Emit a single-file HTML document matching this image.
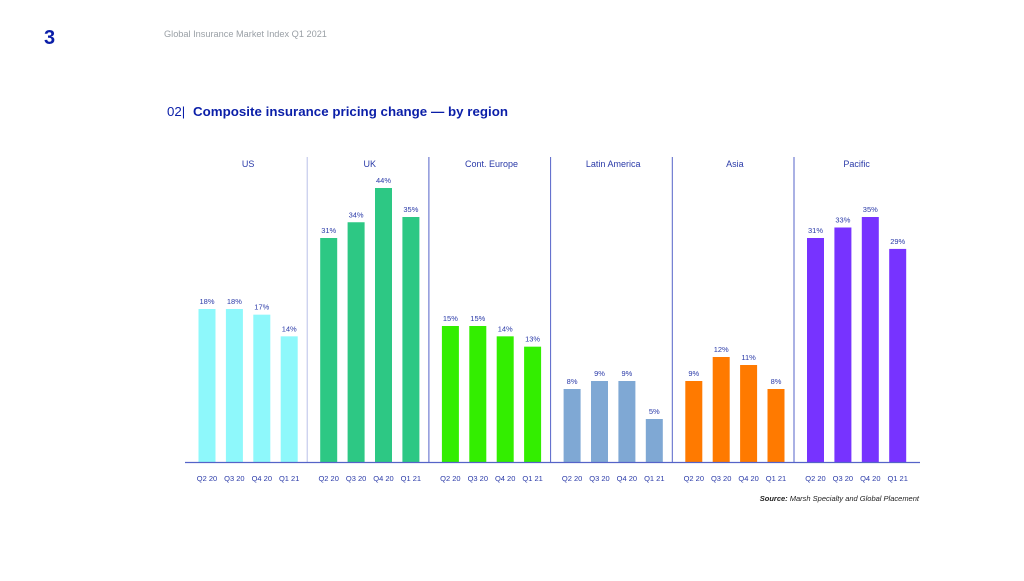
<!DOCTYPE html>
<html><head><meta charset="utf-8"><style>
html,body{margin:0;padding:0;background:#fff;}
body{width:1024px;height:576px;overflow:hidden;position:relative;font-family:"Liberation Sans",sans-serif;}
</style></head><body>
<svg id="chart" width="1024" height="576" viewBox="0 0 1024 576" xmlns="http://www.w3.org/2000/svg">
<text x="44" y="44" font-size="20" font-weight="bold" fill="#0a1ea8">3</text>
<text x="164" y="37" font-size="9.2" fill="#9aa0a6">Global Insurance Market Index Q1 2021</text>
<text x="167" y="116" font-size="13.3" fill="#0a1ea8">02|</text>
<text x="193" y="116" font-size="13.3" font-weight="bold" fill="#0a1ea8" textLength="315">Composite insurance pricing change — by region</text>
<text x="919" y="501" font-size="7.5" font-style="italic" fill="#222" text-anchor="end"><tspan font-weight="bold">Source:</tspan> Marsh Specialty and Global Placement</text>
<g id="marks"></g>
</svg>
<script>
const regions = ["US","UK","Cont. Europe","Latin America","Asia","Pacific"];
const quarters = ["Q2 20","Q3 20","Q4 20","Q1 21"];
const usVals = [18,18,17,14];
const ukVals = [31,34,44,35];
const europeVals = [15,15,14,13];
const latamVals = [8,9,9,5];
const asiaVals = [9,12,11,8];
const pacificVals = [31,33,35,29];
const colors = ["#8ef8fb","#2dc884","#33ee00","#7fa8d4","#ff7a00","#7733ff"];

const series = [usVals,ukVals,europeVals,latamVals,asiaVals,pacificVals];
const baseY = 462;
// polylinear y scale (reference chart is not linear)
const dom = [0,5,8,12,15,18,31,35,44,60];
const rng = [0,43,73,105,136,153,224,245,274,330];
function yScale(v){
  for(let i=1;i<dom.length;i++){
    if(v<=dom[i]||i===dom.length-1){
      const t=(v-dom[i-1])/(dom[i]-dom[i-1]);
      return baseY-(rng[i-1]+t*(rng[i]-rng[i-1]));
    }
  }
}
function groupX(g){return 207+g*121.7;}
function barX(g,i){return groupX(g)+i*27.4;}
const NS="http://www.w3.org/2000/svg";
const root=document.getElementById('marks');
function mk(tag,attrs,txt){const e=document.createElementNS(NS,tag);for(const k in attrs)e.setAttribute(k,attrs[k]);if(txt!==undefined)e.textContent=txt;root.appendChild(e);return e;}

regions.forEach((r,g)=>{
  const cx=(barX(g,0)+barX(g,3))/2;
  const t=mk('text',{x:cx,y:167,'font-size':9,fill:'#2a3aa8','text-anchor':'middle'},r);
  
  
  if(g>0){
    const x=groupX(g)-21.5;
    const l=mk('line',{x1:x,y1:157,x2:x,y2:baseY,stroke:g===1?'#b8c0e8':'#5563c8','stroke-width':1});
    
    
  }
  series[g].forEach((v,i)=>{
    const x=barX(g,i), y=yScale(v);
    const b=mk('rect',{x:x-8.5,y:y,width:17,height:baseY-y,fill:colors[g]});
    
    
    const lb=mk('text',{x:x,y:y-5,'font-size':7.5,fill:'#2a3aa8','text-anchor':'middle'},v+'%');
    
    
    const q=mk('text',{x:x,y:481,'font-size':7.5,fill:'#2a3aa8','text-anchor':'middle'},quarters[i]);
    
    
  });
});
const ax=mk('line',{x1:185,y1:baseY+0.5,x2:920,y2:baseY+0.5,stroke:'#5563c8','stroke-width':1.2});


</script>
</body></html>
